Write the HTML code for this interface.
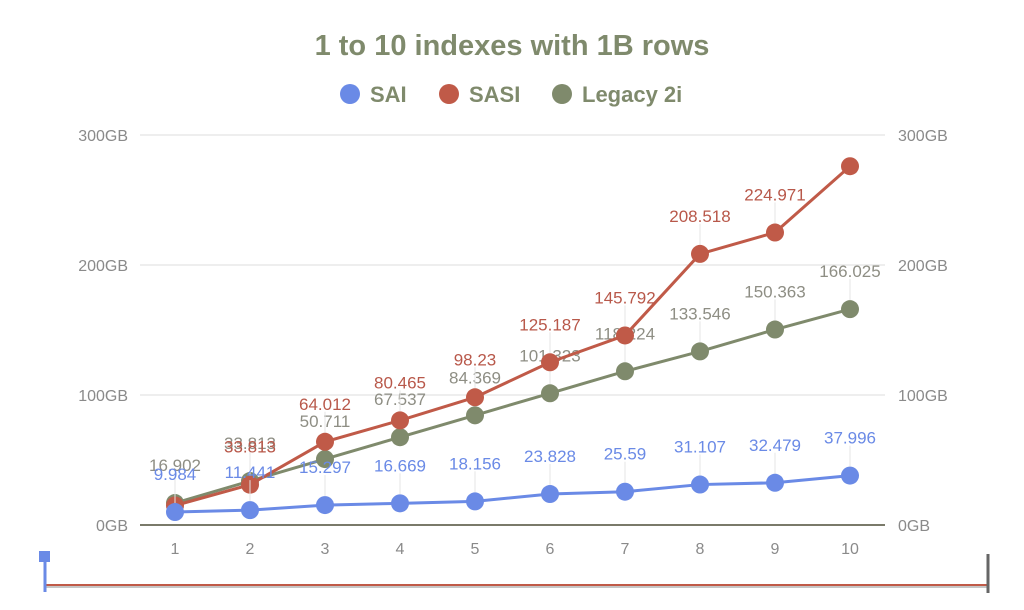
<!DOCTYPE html>
<html><head><meta charset="utf-8"><style>
body{margin:0;background:#fff;}
svg text{font-family:"Liberation Sans",sans-serif;}
</style></head><body>
<svg width="1024" height="605" id="c">
<text x="512" y="55" text-anchor="middle" font-size="29" font-weight="bold" fill="#7f8a6c">1 to 10 indexes with 1B rows</text>
<g font-size="22" font-weight="bold" fill="#7f8a6c">
<circle cx="350" cy="94" r="10" fill="#6a8ae6"/>
<text x="370" y="102">SAI</text>
<circle cx="449" cy="94" r="10" fill="#c05a48"/>
<text x="469" y="102">SASI</text>
<circle cx="562" cy="94" r="10" fill="#7f8a6c"/>
<text x="582" y="102">Legacy 2i</text>
</g>
<g id="grid"></g><g id="marks"></g>
<g>
<line x1="45" y1="585" x2="988" y2="585" stroke="#c05a48" stroke-width="2"/>
<line x1="45" y1="587" x2="988" y2="587" stroke="#8d8d8d" stroke-width="1"/>
<rect x="39" y="551" width="11" height="11" fill="#6a8ae6"/>
<line x1="45" y1="560" x2="45" y2="592" stroke="#6a8ae6" stroke-width="3"/>
<line x1="988" y1="554" x2="988" y2="593" stroke="#666" stroke-width="3"/>
</g>
</svg>
<script>
const categories=["1","2","3","4","5","6","7","8","9","10"];
const sai=[9.984,11.441,15.297,16.669,18.156,23.828,25.59,31.107,32.479,37.996];
const sasi=[15,31,64.012,80.465,98.23,125.187,145.792,208.518,224.971,276];
const legacy=[16.902,33.813,50.711,67.537,84.369,101.323,118.224,133.546,150.363,166.025];
const saiLabels=["9.984","11.441","15.297","16.669","18.156","23.828","25.59","31.107","32.479","37.996"];
const sasiLabels=["","33.813","64.012","80.465","98.23","125.187","145.792","208.518","224.971",""];
const legacyLabels=["16.902","33.813","50.711","67.537","84.369","101.323","118.224","133.546","150.363","166.025"];
const yTicks=[0,100,200,300];
const NS="http://www.w3.org/2000/svg";
const xS=i=>175+i*75;
const yS=v=>525-v*1.3;
function mk(t,a,p){const e=document.createElementNS(NS,t);for(const k in a)e.setAttribute(k,a[k]);p.appendChild(e);return e;}
const grid=document.getElementById('grid'),marks=document.getElementById('marks');
yTicks.forEach(v=>{
 if(v>0){const l=mk('line',{x1:140,x2:885,y1:yS(v),y2:yS(v),stroke:'#ddd'},grid);
 
 }
 const t1=mk('text',{x:128,y:yS(v)+6,'text-anchor':'end','font-size':16,fill:'#8a8a8a'},grid);t1.textContent=v+'GB';
 
 
 const t2=mk('text',{x:898,y:yS(v)+6,'font-size':16,fill:'#8a8a8a'},grid);t2.textContent=v+'GB';
 
 
});
const base=mk('line',{x1:140,x2:885,y1:525,y2:525,stroke:'#7a7a6a','stroke-width':2},grid);


categories.forEach((c,i)=>{const t=mk('text',{x:xS(i),y:554,'text-anchor':'middle','font-size':16,fill:'#8a8a8a'},grid);t.textContent=c;
 
 });
function series(vals,labels,color,lc,name){
 const g=mk('g',{},marks);
 
 
 mk('polyline',{points:vals.map((v,i)=>xS(i)+','+yS(v)).join(' '),fill:'none',stroke:color,'stroke-width':3},g);
 vals.forEach((v,i)=>{
  if(labels[i]){mk('line',{x1:xS(i),x2:xS(i),y1:yS(v)-30,y2:yS(v),stroke:'#e4e4e4'},g);
   const t=mk('text',{x:xS(i),y:yS(v)-32,'text-anchor':'middle','font-size':17,fill:lc},g);t.textContent=labels[i];
   
   }
  const c=mk('circle',{cx:xS(i),cy:yS(v),r:9,fill:color},g);
  
  
 });
}
series(legacy,legacyLabels,'#7f8a6c','#8e8e84','legacy');
series(sasi,sasiLabels,'#c05a48','#b8584a','sasi');
series(sai,saiLabels,'#6a8ae6','#6a8ae6','sai');
</script>
</body></html>
